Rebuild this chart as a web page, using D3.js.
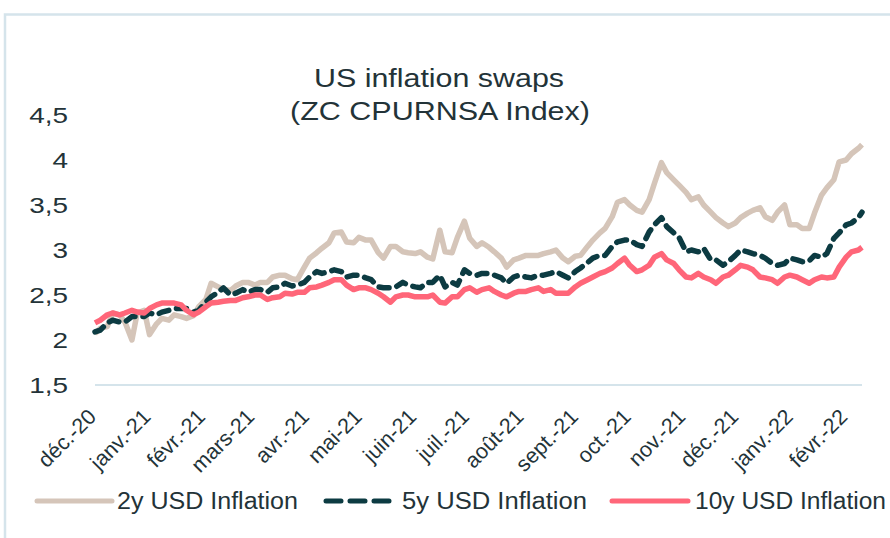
<!DOCTYPE html>
<html>
<head>
<meta charset="utf-8">
<script src="https://cdn.jsdelivr.net/npm/d3@7"></script>
<style>
  body { margin: 0; background: #fff; }
  svg { display: block; font-family: "Liberation Sans", Arial, sans-serif; }
</style>
</head>
<body>
<svg id="chart" width="890" height="538"></svg>
<script>
const dates = [
  "2020-12-01","2020-12-04","2020-12-08","2020-12-11","2020-12-15","2020-12-18","2020-12-22","2020-12-25","2020-12-29","2021-01-01",
  "2021-01-05","2021-01-08","2021-01-12","2021-01-15","2021-01-19","2021-01-22","2021-01-26","2021-01-29",
  "2021-02-02","2021-02-05","2021-02-09","2021-02-12","2021-02-16","2021-02-19","2021-02-23","2021-02-26",
  "2021-03-02","2021-03-05","2021-03-09","2021-03-12","2021-03-16","2021-03-19","2021-03-23","2021-03-26","2021-03-30","2021-04-02",
  "2021-04-06","2021-04-09","2021-04-13","2021-04-16","2021-04-20","2021-04-23","2021-04-27","2021-04-30",
  "2021-05-04","2021-05-07","2021-05-11","2021-05-14","2021-05-18","2021-05-21","2021-05-25","2021-05-28",
  "2021-06-01","2021-06-04","2021-06-08","2021-06-11","2021-06-15","2021-06-18","2021-06-22","2021-06-25","2021-06-29","2021-07-02",
  "2021-07-06","2021-07-09","2021-07-13","2021-07-16","2021-07-20","2021-07-23","2021-07-27","2021-07-30",
  "2021-08-03","2021-08-06","2021-08-10","2021-08-13","2021-08-17","2021-08-20","2021-08-24","2021-08-27","2021-08-31","2021-09-03",
  "2021-09-07","2021-09-10","2021-09-14","2021-09-17","2021-09-21","2021-09-24","2021-09-28","2021-10-01",
  "2021-10-05","2021-10-08","2021-10-12","2021-10-15","2021-10-19","2021-10-22","2021-10-26","2021-10-29",
  "2021-11-02","2021-11-05","2021-11-09","2021-11-12","2021-11-16","2021-11-19","2021-11-23","2021-11-26","2021-11-30","2021-12-03",
  "2021-12-07","2021-12-10","2021-12-14","2021-12-17","2021-12-21","2021-12-24","2021-12-28","2021-12-31",
  "2022-01-04","2022-01-07","2022-01-11","2022-01-14","2022-01-18","2022-01-21","2022-01-25","2022-01-28",
  "2022-02-01","2022-02-04","2022-02-08","2022-02-10"];

const infl2y = [
  2.07,2.13,2.15,2.30,2.28,2.20,2.00,2.30,2.33,2.06,
  2.18,2.24,2.22,2.28,2.26,2.24,2.27,2.37,
  2.45,2.63,2.59,2.56,2.55,2.60,2.64,2.64,
  2.61,2.64,2.64,2.70,2.72,2.72,2.68,2.67,2.81,2.91,
  2.97,3.02,3.08,3.19,3.20,3.09,3.08,3.14,
  3.11,3.11,2.97,2.91,3.04,3.04,2.98,2.97,
  2.96,2.98,2.92,2.90,3.22,2.98,2.97,3.14,3.32,3.13,
  3.04,3.08,3.03,2.98,2.91,2.81,2.89,2.91,
  2.94,2.94,2.94,2.96,2.98,3.00,2.91,2.87,2.93,2.94,
  3.04,3.11,3.19,3.24,3.37,3.53,3.56,3.50,
  3.44,3.42,3.56,3.74,3.97,3.86,3.78,3.72,
  3.64,3.56,3.59,3.50,3.42,3.36,3.30,3.26,3.30,3.36,
  3.41,3.44,3.47,3.37,3.33,3.42,3.50,3.28,
  3.28,3.24,3.24,3.41,3.61,3.69,3.78,3.98,
  4.00,4.07,4.13,4.17];

const infl5y = [
  2.09,2.11,2.19,2.22,2.20,2.20,2.26,2.26,2.26,2.30,
  2.28,2.31,2.33,2.35,2.35,2.35,2.31,2.33,
  2.42,2.48,2.53,2.58,2.50,2.52,2.56,2.53,
  2.56,2.56,2.53,2.58,2.59,2.63,2.60,2.61,2.64,2.70,
  2.76,2.74,2.76,2.78,2.76,2.70,2.72,2.72,
  2.69,2.67,2.59,2.58,2.58,2.59,2.64,2.61,
  2.59,2.58,2.64,2.64,2.72,2.59,2.64,2.61,2.78,2.74,
  2.72,2.74,2.74,2.72,2.69,2.63,2.70,2.72,
  2.70,2.69,2.72,2.72,2.74,2.76,2.72,2.69,2.76,2.80,
  2.86,2.91,2.94,2.94,3.04,3.09,3.11,3.11,
  3.06,3.04,3.20,3.28,3.36,3.26,3.19,3.14,
  2.98,3.00,2.98,3.02,2.89,2.89,2.83,2.87,2.94,3.00,
  2.98,2.96,2.94,2.91,2.85,2.83,2.85,2.91,
  2.89,2.87,2.88,2.94,2.92,2.96,3.13,3.19,
  3.28,3.30,3.36,3.42];

const infl10y = [
  2.19,2.22,2.28,2.30,2.28,2.30,2.33,2.31,2.30,2.35,
  2.39,2.41,2.41,2.41,2.39,2.33,2.28,2.31,
  2.37,2.41,2.42,2.43,2.44,2.44,2.47,2.48,
  2.50,2.50,2.45,2.47,2.48,2.52,2.51,2.53,2.53,2.58,
  2.59,2.61,2.64,2.67,2.67,2.61,2.56,2.58,
  2.58,2.56,2.52,2.48,2.42,2.48,2.50,2.50,
  2.48,2.48,2.48,2.50,2.42,2.41,2.48,2.48,2.56,2.58,
  2.53,2.56,2.58,2.54,2.50,2.48,2.52,2.54,
  2.54,2.56,2.58,2.54,2.56,2.52,2.52,2.52,2.59,2.63,
  2.67,2.70,2.74,2.76,2.80,2.85,2.91,2.83,
  2.76,2.78,2.83,2.92,2.96,2.89,2.85,2.78,
  2.70,2.69,2.74,2.70,2.67,2.63,2.70,2.72,2.78,2.83,
  2.81,2.78,2.70,2.69,2.67,2.63,2.70,2.72,
  2.70,2.67,2.63,2.67,2.70,2.69,2.70,2.81,
  2.92,2.98,3.00,3.03];

const monthLabels = ["déc.-20","janv.-21","févr.-21","mars-21","avr.-21","mai-21","juin-21","juil.-21","août-21",
  "sept.-21","oct.-21","nov.-21","déc.-21","janv.-22","févr.-22"];
const yTicks = [1.5, 2, 2.5, 3, 3.5, 4, 4.5];

const seriesNames = ["2y USD Inflation", "5y USD Inflation", "10y USD Inflation"];
const seriesValues = [infl2y, infl5y, infl10y];
const colors = ["#d5c5b9", "#0c3b42", "#ff6679"];
const dashes = [null, "10,8", null];
const textColor = "#233338";

const svg = d3.select("#chart");
const parse = d3.timeParse("%Y-%m-%d");
const dateObjs = dates.map(parse);

const x = d3.scaleTime()
  .domain([parse("2020-12-01"), parse("2022-02-10")])
  .range([95, 862]);
const y = d3.scaleLinear().domain([1.5, 4.5]).range([385, 115]);

// frame
svg.append("path")
  .attr("d", "M5,538 V14.5 H890")
  .attr("fill", "none")
  .attr("stroke", "#d5e4eb")
  .attr("stroke-width", 2.5);

// title
const title = svg.append("g").attr("fill", textColor).attr("font-size", 25).attr("text-anchor", "middle");
title.append("text").attr("x", 439).attr("y", 87).attr("textLength", 250).attr("lengthAdjust", "spacingAndGlyphs")
  .text("US inflation swaps");
title.append("text").attr("x", 440).attr("y", 120).attr("textLength", 300).attr("lengthAdjust", "spacingAndGlyphs")
  .text("(ZC CPURNSA Index)");

// y axis labels
const yAxis = svg.append("g")
  .attr("transform", "translate(68,0)")
  .call(d3.axisLeft(y).tickValues(yTicks).tickSize(0).tickPadding(0)
    .tickFormat(d => d3.format(".1~f")(d).replace(".", ",")));
yAxis.select(".domain").remove();
yAxis.selectAll("text")
  .attr("fill", textColor)
  .attr("font-size", 22)
  .attr("font-family", "Liberation Sans, Arial, sans-serif")
  .attr("x", 0)
  .attr("transform", "scale(1.27,1)");

// baseline
svg.append("line")
  .attr("x1", 95).attr("x2", 862)
  .attr("y1", y(1.5)).attr("y2", y(1.5))
  .attr("stroke", "#d5e4eb").attr("stroke-width", 2);

// x axis labels
const months = d3.timeMonth.range(parse("2020-12-01"), parse("2022-02-02"));
const xAxis = svg.append("g")
  .attr("transform", `translate(0,${y(1.5)})`)
  .call(d3.axisBottom(x).tickValues(months).tickSize(0)
    .tickFormat((d, i) => monthLabels[i]));
xAxis.select(".domain").remove();
xAxis.selectAll("text")
  .attr("fill", textColor)
  .attr("font-size", 21.5)
  .attr("font-family", "Liberation Sans, Arial, sans-serif")
  .attr("text-anchor", "end")
  .attr("x", 0).attr("y", 0).attr("dy", 0)
  .attr("transform", "translate(2,33) rotate(-45)");

// lines
const line = d3.line()
  .x((d, i) => x(dateObjs[i]))
  .y(d => y(d));

seriesValues.forEach((vals, s) => {
  svg.append("path")
    .datum(vals)
    .attr("d", line)
    .attr("fill", "none")
    .attr("stroke", colors[s])
    .attr("stroke-width", 5.5)
    .attr("stroke-linejoin", "round")
    .attr("stroke-linecap", dashes[s] ? "round" : "butt")
    .attr("stroke-dasharray", dashes[s]);
});

// legend
const legendPos = [{x1: 37, x2: 112, tx: 117, tw: 181}, {x1: 326, x2: 397, tx: 402, tw: 185}, {x1: 612, x2: 688, tx: 695, tw: 191}];
const legend = svg.append("g");
seriesNames.forEach((name, s) => {
  const p = legendPos[s];
  legend.append("line")
    .attr("x1", p.x1).attr("x2", p.x2).attr("y1", 501).attr("y2", 501)
    .attr("stroke", colors[s]).attr("stroke-width", 5)
    .attr("stroke-linecap", "round")
    .attr("stroke-dasharray", dashes[s] ? "15,9" : null);
  legend.append("text")
    .attr("x", p.tx).attr("y", 509)
    .attr("fill", textColor)
    .attr("font-size", 23)
    .attr("textLength", p.tw).attr("lengthAdjust", "spacingAndGlyphs")
    .text(name);
});
</script>
</body>
</html>
